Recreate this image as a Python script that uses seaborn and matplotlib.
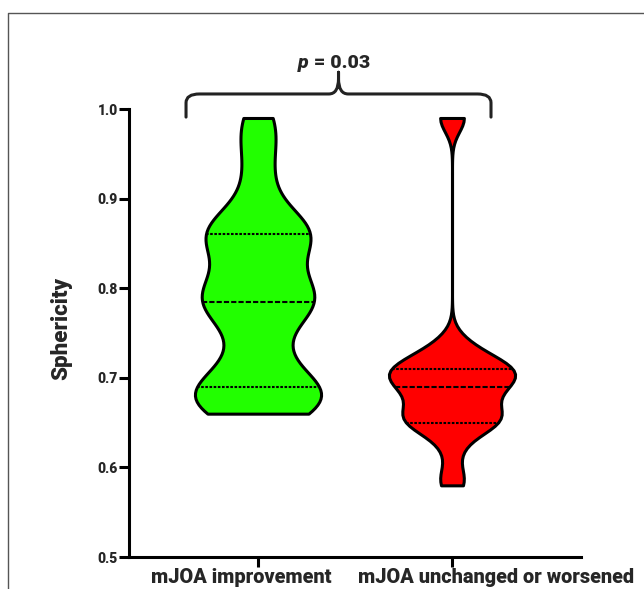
import numpy as np
import pandas as pd
import matplotlib
matplotlib.use("Agg")
import matplotlib.pyplot as plt
from matplotlib.path import Path
from matplotlib.patches import PathPatch
from matplotlib.lines import Line2D
import seaborn as sns

# group labels
groups = ["mJOA improvement", "mJOA unchanged or worsened"]

# sphericity values (quartiles / min / max / bumps)
improved = [0.66, 0.66, 0.67, 0.68, 0.69, 0.69, 0.69, 0.72, 0.74, 0.77, 0.78, 0.78,
            0.79, 0.80, 0.81, 0.83, 0.85, 0.86, 0.86, 0.87, 0.88, 0.92, 0.96, 0.99]
unchanged = [0.58, 0.59, 0.62, 0.64, 0.65, 0.65, 0.65, 0.65, 0.66, 0.66, 0.67, 0.67,
             0.68, 0.69, 0.69, 0.69, 0.70, 0.70, 0.70, 0.71, 0.71, 0.71, 0.71, 0.72,
             0.72, 0.73, 0.74, 0.99, 0.99]
colors = ["#22ff00", "#ff0000"]
bw = [0.5, 0.34]
y_ticks = [0.5, 0.6, 0.7, 0.8, 0.9, 1.0]
p_text = "0.03"

df = pd.DataFrame({
    "group": [groups[0]] * len(improved) + [groups[1]] * len(unchanged),
    "sphericity": improved + unchanged,
})

sns.set_style("white")
plt.rcParams["font.family"] = ["Roboto", "DejaVu Sans"]
plt.rcParams["font.weight"] = "heavy"

fig = plt.figure(figsize=(6.44, 5.89), dpi=100)
ax = fig.add_axes([0.2003, 0.0543, 0.7019, 0.7606])

# one call per group so each gets its own bandwidth
for i, g in enumerate(groups):
    sns.violinplot(data=df[df["group"] == g], x="group", y="sphericity", order=groups,
                   color=colors[i], saturation=1, cut=0, bw_adjust=bw[i],
                   density_norm="width", width=0.65, inner="quart",
                   inner_kws=dict(color="black", linewidth=1.5),
                   linecolor="black", linewidth=2.2, ax=ax)

ax.set_xlim(-0.665, 1.665)
ax.set_ylim(0.5, 1.0)
ax.set_yticks(y_ticks)
ax.set_yticklabels([f"{t:.1f}" for t in y_ticks], fontsize=10, fontweight="heavy")
ax.set_xticks([0, 1])
ax.set_xticklabels([])
ax.set_xlabel("")
ax.set_ylabel("Sphericity", fontsize=16, fontweight="heavy")
ax.yaxis.set_label_coords(-0.126, 0.509)

for s in ["top", "right"]:
    ax.spines[s].set_visible(False)
for s in ["left", "bottom"]:
    ax.spines[s].set_linewidth(2.2)
    ax.spines[s].set_color("black")
ax.tick_params(axis="both", direction="out", length=7, width=2.2, color="black",
               left=True, bottom=True)
ax.tick_params(axis="y", pad=1)

# category labels (slightly off the ticks, as in the original)
for i, (g, dx) in enumerate(zip(groups, [-17, 44])):
    ax.annotate(g, xy=(i, 0), xycoords=("data", "axes fraction"),
                xytext=(dx * 0.72, -19), textcoords="offset points",
                ha="center", va="baseline", fontsize=14.3, fontweight="heavy")

# brace with p value
L, R, C, hy = -0.371, 1.201, 0.415, 1.0168
verts = [(L, 0.991), (L, 1.007), (L, hy), (L + 0.07, hy), (C - 0.05, hy),
         (C, hy), (C, 1.034), (C, 1.041),
         (C, 1.034), (C, hy), (C + 0.05, hy), (R - 0.07, hy), (R, hy), (R, 1.007), (R, 0.991)]
codes = [Path.MOVETO, Path.LINETO, Path.CURVE3, Path.CURVE3, Path.LINETO,
         Path.CURVE3, Path.CURVE3, Path.LINETO,
         Path.LINETO, Path.CURVE3, Path.CURVE3, Path.LINETO, Path.CURVE3, Path.CURVE3, Path.LINETO]
ax.add_patch(PathPatch(Path(verts, codes), facecolor="none", edgecolor="#222222",
                       linewidth=2.2, clip_on=False, capstyle="round", joinstyle="round"))
ax.text(0.262, 1.046, "p", ha="right", va="baseline", fontsize=14,
        fontweight="heavy", fontstyle="italic", clip_on=False)
ax.text(0.262, 1.046, " = " + p_text, ha="left", va="baseline", fontsize=14,
        fontweight="heavy", clip_on=False)

# thin outer frame of the original panel
fig.add_artist(Line2D([8 / 644, 8 / 644, 1.0], [0.0, 1 - 13 / 589, 1 - 13 / 589],
                      transform=fig.transFigure, color="#555555", linewidth=1))

fig.savefig("out.png", dpi=100)
